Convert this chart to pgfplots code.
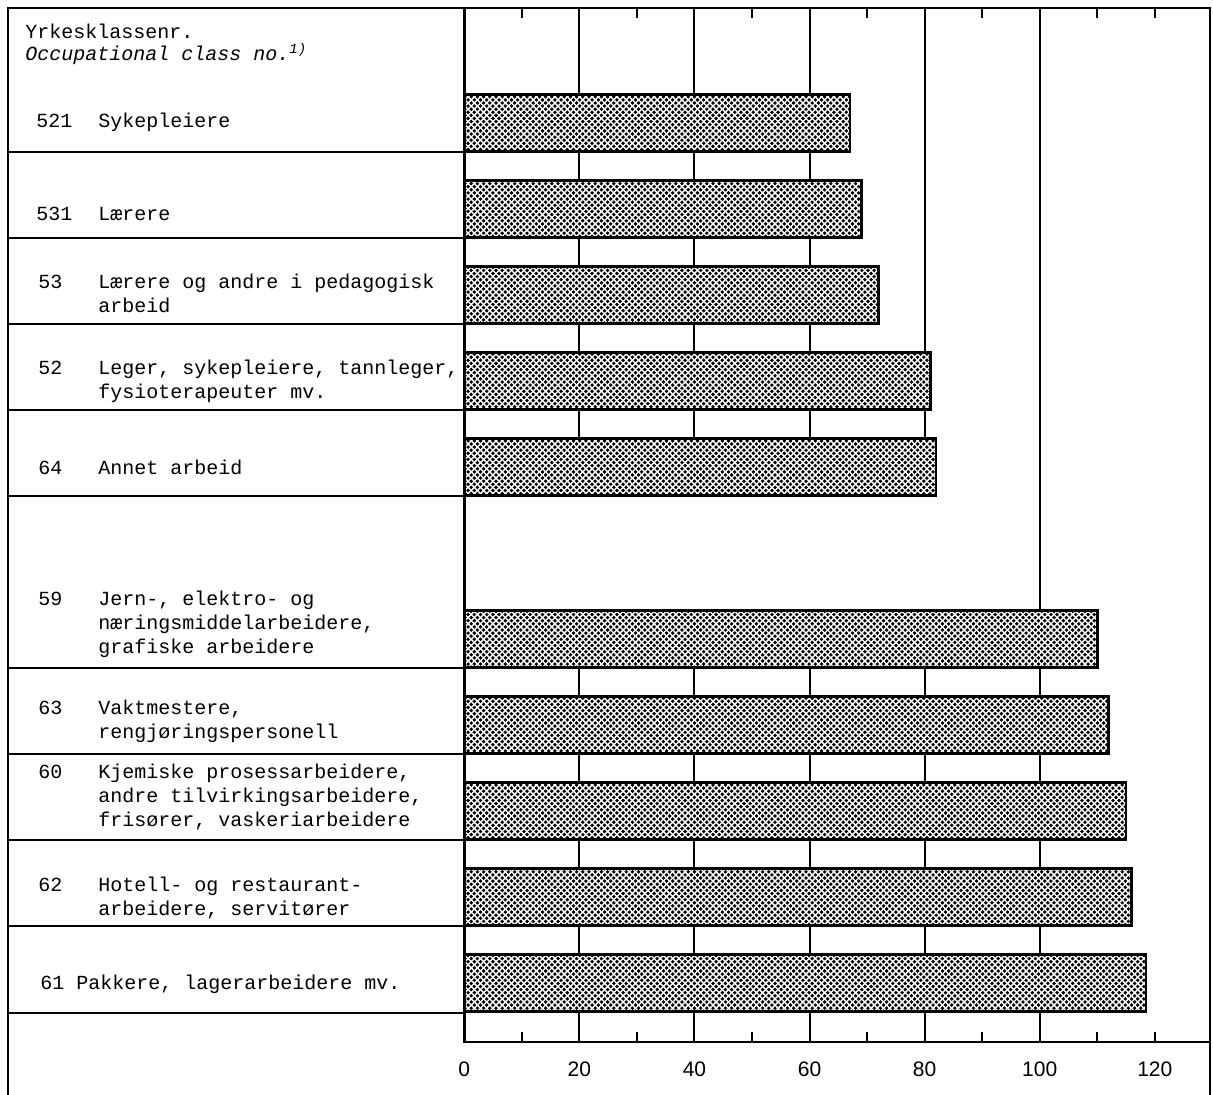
\documentclass[border=0pt]{standalone}
\usepackage{fontspec}
\setmainfont{Liberation Sans}
\newfontfamily\mono{Liberation Mono}
\usepackage{pgfplots}
\pgfplotsset{compat=1.18}
\usetikzlibrary{patterns}

\pgfdeclarepatternformonly{bigdots}{\pgfqpoint{-1.2pt}{-1.2pt}}{\pgfqpoint{4.2pt}{4.2pt}}{\pgfqpoint{3.1pt}{3.1pt}}{%
  \pgfpathcircle{\pgfqpoint{0pt}{0pt}}{0.95pt}%
  \pgfpathcircle{\pgfqpoint{1.55pt}{1.55pt}}{0.95pt}%
  \pgfusepath{fill}}

\newcommand\lab{\mono\fontsize{10}{12}\selectfont}

\begin{document}
\begin{tikzpicture}
\begin{axis}[
  scale only axis, width=372.85pt, height=517pt,
  xmin=0, xmax=129.6, ymin=8, ymax=1042, y dir=reverse,
  axis line style={line width=1.2pt},
  xtick={0,20,40,60,80,100,120}, major tick length=0pt,
  minor xtick={10,30,50,70,90,110,120}, minor tick length=5pt,
  tick align=inside, xtick pos=both, xticklabel pos=lower,
  tick style={line width=1pt, black},
  ytick=\empty,
  xticklabel style={font=\fontsize{10.5}{12}\selectfont, yshift=-6.5pt},
  /pgf/number format/assume math mode=true,
  clip=false,
  xbar, bar width=57,
]
\pgfplotsinvokeforeach{20,40,60,80}{
  \draw[line width=1pt] (axis cs:#1,8) -- (axis cs:#1,496);
  \draw[line width=1pt] (axis cs:#1,610) -- (axis cs:#1,1042);
}
\draw[line width=1pt] (axis cs:100,8) -- (axis cs:100,1042);
\addplot[draw=black, line width=1.3pt, fill=white, postaction={pattern=bigdots}]
  coordinates {(67,123) (69,209) (72,295) (81,381) (82,467) (110,639) (112,725) (115,811) (116,897) (118.5,983)};
\coordinate (O) at (axis cs:0,1042);
\end{axis}
\begin{scope}[shift={(O)}, x=0.5pt, y=-0.5pt]
\begin{scope}[shift={(-464.3,-1042)}]
  \draw[line width=1.2pt] (8,1095) -- (8,8) -- (1210,8) -- (1210,1095);
  \foreach \yy in {152,238,324,410,496,668,754,840,926,1013}
    \draw[line width=1pt] (8,\yy) -- (464.3,\yy);
  \tikzset{every node/.style={anchor=base west, inner sep=0pt, font=\lab}}
  \node at (25,39) {Yrkesklassenr.};
  \node at (25,61) {\itshape Occupational class no.\textsuperscript{1)}};
  \node at (36,128) {521}; \node at (98,128) {Sykepleiere};
  \node at (36,221) {531}; \node at (98,221) {Lærere};
  \node at (38,289) {53};  \node at (98,289) {Lærere og andre i pedagogisk};
                           \node at (98,313) {arbeid};
  \node at (38,375) {52};  \node at (98,375) {Leger, sykepleiere, tannleger,};
                           \node at (98,399) {fysioterapeuter mv.};
  \node at (38,475) {64};  \node at (98,475) {Annet arbeid};
  \node at (38,606) {59};  \node at (98,606) {Jern-, elektro- og};
                           \node at (98,630) {næringsmiddelarbeidere,};
                           \node at (98,654) {grafiske arbeidere};
  \node at (38,715) {63};  \node at (98,715) {Vaktmestere,};
                           \node at (98,739) {rengjøringspersonell};
  \node at (38,779) {60};  \node at (98,779) {Kjemiske prosessarbeidere,};
                           \node at (98,803) {andre tilvirkingsarbeidere,};
                           \node at (98,827) {frisører, vaskeriarbeidere};
  \node at (38,892) {62};  \node at (98,892) {Hotell- og restaurant-};
                           \node at (98,916) {arbeidere, servitører};
  \node at (40,990) {61};  \node at (76,990) {Pakkere, lagerarbeidere mv.};
  \pgfresetboundingbox
  \path[use as bounding box] (0,0) rectangle (1213,1095);
\end{scope}
\end{scope}
\end{tikzpicture}
\end{document}
